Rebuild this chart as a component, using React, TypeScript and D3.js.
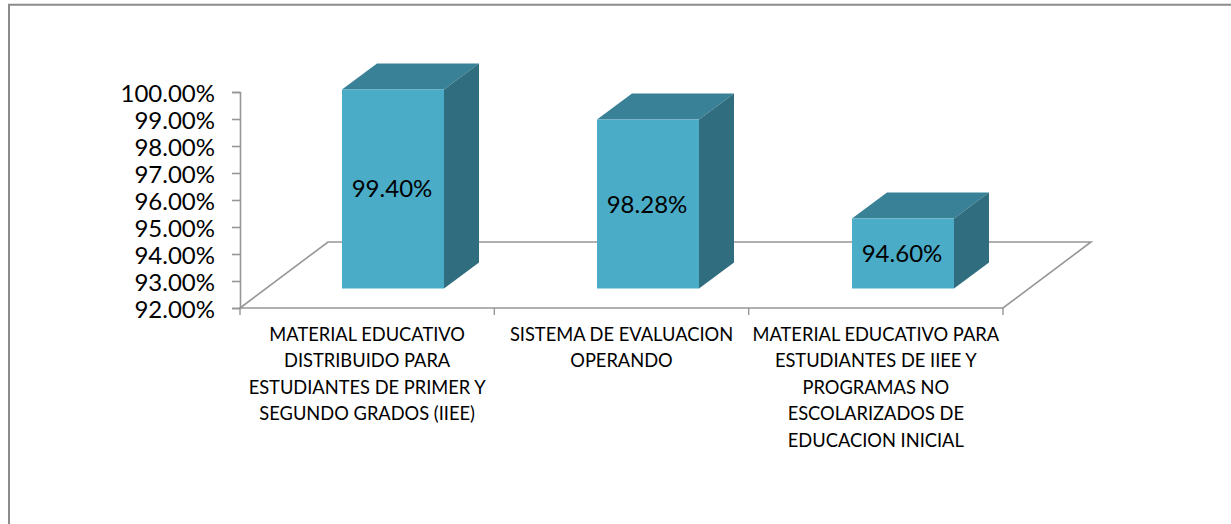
import { useRef, useEffect } from 'react';
import * as d3 from 'd3';

const categories = [
  ['MATERIAL EDUCATIVO', 'DISTRIBUIDO PARA', 'ESTUDIANTES DE PRIMER Y', 'SEGUNDO GRADOS (IIEE)'],
  ['SISTEMA DE EVALUACION', 'OPERANDO'],
  ['MATERIAL EDUCATIVO PARA', 'ESTUDIANTES DE IIEE Y', 'PROGRAMAS NO', 'ESCOLARIZADOS DE', 'EDUCACION INICIAL'],
];
const values = [99.4, 98.28, 94.6];
const ticks = [92, 93, 94, 95, 96, 97, 98, 99, 100];

const WIDTH = 1231;
const HEIGHT = 524;
const FONT = 'Lato, "Open Sans", sans-serif';
const AXIS = '#969696';

export default function App() {
  const ref = useRef<SVGSVGElement>(null);

  useEffect(() => {
    const svg = d3.select(ref.current);
    svg.selectAll('*').remove();

    // chart frame, only left and top are inside the crop
    svg.append('path')
      .attr('d', `M9,${HEIGHT} V4.8 H${WIDTH}`)
      .attr('fill', 'none').attr('stroke', '#8c8c8c').attr('stroke-width', 2);

    const x0 = 240, x1 = 1003, y0 = 308, y1 = 92;
    const depthX = 88, depthY = -66; // floor depth
    const barDepthX = 35, barDepthY = -26;
    const idx = d3.range(categories.length);

    const x = d3.scaleBand<number>().domain(idx).range([x0, x1]);
    const y = d3.scaleLinear().domain([92, 100]).range([y0, y1]);
    // bars stand on the floor, a bit behind the front edge
    const yBar = d3.scaleLinear().domain([92, 100]).range([288.5, 73.3]);
    const xBar = d3.scalePoint<number>().domain(idx).range([393, 903]);

    // floor
    svg.append('path')
      .attr('d', `M${x0},${y0} L${x0 + depthX},${y0 + depthY} H${x1 + depthX} L${x1},${y0} Z`)
      .attr('fill', 'none').attr('stroke', AXIS).attr('stroke-width', 1.6);

    // y axis
    const gy = svg.append('g').attr('transform', `translate(${x0},0)`)
      .call(d3.axisLeft(y).tickValues(ticks).tickSize(8).tickFormat(d => `${(+d).toFixed(2)}%`));
    gy.selectAll('.domain, line').attr('stroke', AXIS).attr('stroke-width', 1.6);
    gy.selectAll('text')
      .attr('font-family', FONT).attr('font-size', 24).attr('fill', '#000')
      .attr('x', -25).attr('dy', '0.38em');

    // x axis ticks
    svg.append('g').selectAll('line').data(d3.range(categories.length + 1)).join('line')
      .attr('x1', d => x0 + d * x.bandwidth()).attr('x2', d => x0 + d * x.bandwidth())
      .attr('y1', y0).attr('y2', y0 + 7)
      .attr('stroke', AXIS).attr('stroke-width', 1.4);

    // bars
    const bars = svg.append('g').selectAll('g').data(values).join('g');
    const barW = 102;
    bars.each(function (v, i) {
      const g = d3.select(this);
      const l = xBar(i)! - barW / 2, r = l + barW, t = yBar(v), b = yBar(92);
      g.append('path')
        .attr('d', `M${l},${t} L${l + barDepthX},${t + barDepthY} H${r + barDepthX} L${r},${t} Z`)
        .attr('fill', '#388197');
      g.append('path')
        .attr('d', `M${r},${t} L${r + barDepthX},${t + barDepthY} V${b + barDepthY} L${r},${b} Z`)
        .attr('fill', '#306d7e');
      g.append('rect')
        .attr('x', l).attr('y', t).attr('width', barW).attr('height', b - t)
        .attr('fill', '#4aacc7');
      g.append('text')
        .attr('x', (l + r) / 2 - 1).attr('y', (t + b) / 2 + 8.5)
        .attr('text-anchor', 'middle')
        .attr('font-family', FONT).attr('font-size', 24).attr('fill', '#000')
        .text(`${v.toFixed(2)}%`);
    });

    // category labels
    const labels = svg.append('g').selectAll('text').data(categories).join('text')
      .attr('text-anchor', 'middle')
      .attr('font-family', FONT).attr('font-size', 18.3).attr('fill', '#000');
    labels.each(function (lines, i) {
      d3.select(this).selectAll('tspan').data(lines).join('tspan')
        .attr('x', x(i)! + x.bandwidth() / 2)
        .attr('y', (_d, j) => 340.5 + j * 26.6)
        .text(d => d);
    });
  }, []);

  return (
    <svg ref={ref} width={WIDTH} height={HEIGHT} viewBox={`0 0 ${WIDTH} ${HEIGHT}`}
      style={{ position: 'absolute', left: 0, top: 0, background: '#fff' }} />
  );
}
